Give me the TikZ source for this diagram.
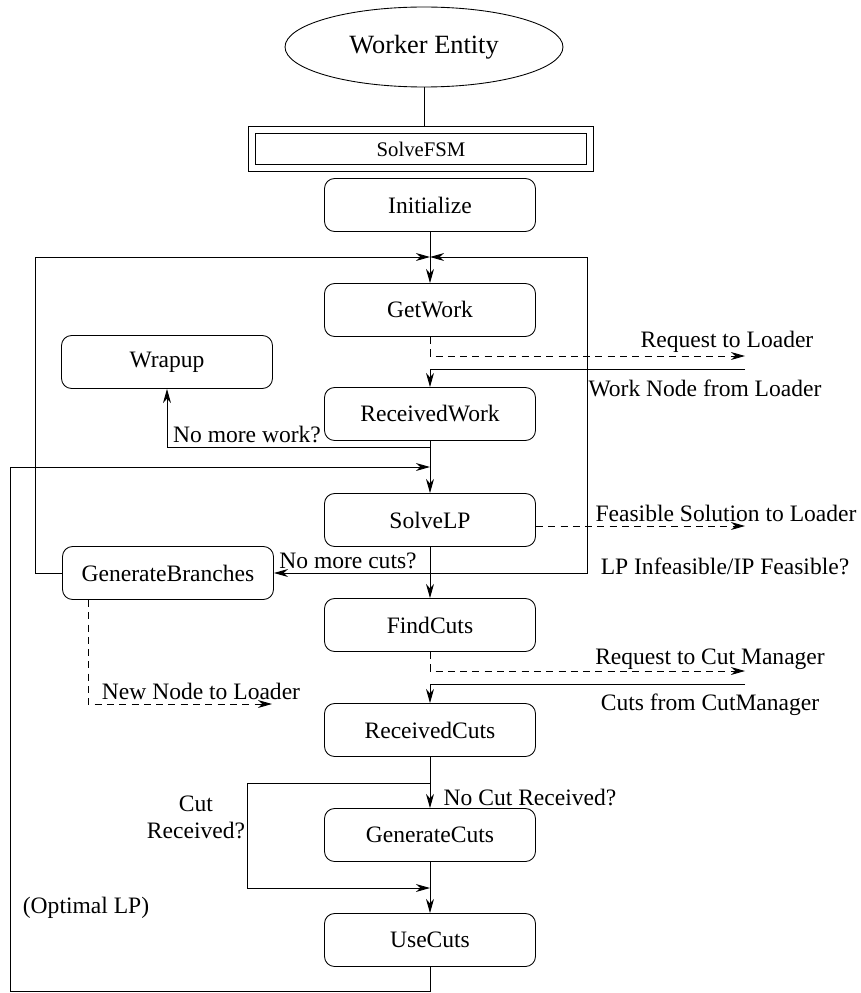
\documentclass[tikz,border=0pt]{standalone}
\usepackage{fontspec}
\setmainfont{Liberation Serif}
\usetikzlibrary{shapes.geometric,arrows.meta}
\def \BoxW {4.22cm}
\def \BoxH {1.06cm}
\tikzstyle{state}=[
  draw=black,
  rounded corners=0.2cm,
  minimum width=\BoxW,
  minimum height=\BoxH,
  inner sep=0pt,
  font=\fontsize{13.4}{16}\selectfont
]
\tikzstyle{flow}=[-{Stealth[length=8pt,width=4.5pt,inset=2.5pt]}]
\tikzstyle{msg}=[dash pattern=on 4pt off 3pt]
\tikzstyle{lbl}=[inner sep=0pt, font=\fontsize{13.4}{15.4}\selectfont]

\begin{document}
\begin{tikzpicture}[x=0.02cm, y=-0.02cm, line width=0.5pt]
  \useasboundingbox (0,0) rectangle (861,993);

  \def \MainX {430}
  \def \OutX {745}

  \node[draw, ellipse, minimum width=5.56cm, minimum height=1.6cm, inner sep=0pt,
        font=\fontsize{15}{18}\selectfont] (entity) at (424,47) {Worker Entity};
  \node[draw, double, double distance=3.5pt, minimum width=6.77cm, minimum height=0.77cm,
        inner sep=0pt, outer sep=2.25pt, font=\fontsize{11.8}{14}\selectfont] (fsm) at (421,149) {SolveFSM};
  \draw (entity.south) -- (entity.south |- fsm.north);

  % main column of states
  \foreach \name/\txt/\y in {init/Initialize/205, gw/GetWork/310, rw/ReceivedWork/414,
      sl/SolveLP/520, fc/FindCuts/625, rc/ReceivedCuts/730, gc/GenerateCuts/835, uc/UseCuts/940}{
    \node[state] (\name) at (\MainX, \y) {\txt};
  }
  \node[state] (wr) at (167,362) {Wrapup};
  \node[state] (gb) at (168,573) {GenerateBranches};

  % junctions and message ends
  \coordinate (jtop) at (\MainX,257);
  \coordinate (jnw) at (\MainX,447);
  \coordinate (jopt) at (\MainX,467);
  \coordinate (jlp) at (\MainX,573);
  \coordinate (jncr) at (\MainX,783);
  \coordinate (jcr) at (\MainX,888);
  \coordinate (reqL) at (\OutX,356);
  \coordinate (wnL) at (\OutX,369);
  \coordinate (fsL) at (\OutX,526);
  \coordinate (rcmL) at (\OutX,671);
  \coordinate (cfL) at (\OutX,684);
  \coordinate (nnL) at (272,704);

  \draw[flow] (init) -- (gw);
  \draw[flow] (rw) -- (sl);
  \draw[flow] (sl) -- (fc);
  \draw[flow] (rc) -- (gc);
  \draw[flow] (gc) -- (uc);

  % loops
  \draw[flow] (gb.west) -- ++(-27,0) |- (jtop);
  \draw[flow] (jlp) -- (587,573) |- (jtop);
  \draw[flow] (jlp) -- (gb.east);
  \draw[flow] (jnw) -| (wr.south);
  \draw[flow] (uc.south) |- (10,991) |- (jopt);
  \draw[flow] (jncr) -- (247,783) |- (jcr);

  % messages
  \draw[msg, flow] (gw.south) |- (reqL);
  \draw[flow] (wnL) -| (rw.north);
  \draw[msg, flow] (sl.east |- fsL) -- (fsL);
  \draw[msg, flow] (fc.south) |- (rcmL);
  \draw[flow] (cfL) -| (rc.north);
  \draw[msg, flow] ([xshift=-1.6cm]gb.south) |- (nnL);

  % labels
  \node[lbl] (reqT) at (727,342) {Request to Loader};
  \node[lbl] (wnT) at (705,388) {Work Node from Loader};
  \node[lbl] (nmwT) at (247,434) {No more work?};
  \node[lbl] (fsT) at (726,513) {Feasible Solution to Loader};
  \node[lbl] (infT) at (725,566) {LP Infeasible/IP Feasible?};
  \node[lbl] (nmcT) at (348,561) {No more cuts?};
  \node[lbl] (nnT) at (201,691) {New Node to Loader};
  \node[lbl] (rcmT) at (710,659) {Request to Cut Manager};
  \node[lbl] (cfT) at (710,705) {Cuts from CutManager};
  \node[lbl] (ncrT) at (530,797) {No Cut Received?};
  \node[lbl, align=center] (crT) at (196,817) {Cut\\Received?};
  \node[lbl] (optT) at (86,908) {(Optimal LP)};
\end{tikzpicture}
\end{document}
